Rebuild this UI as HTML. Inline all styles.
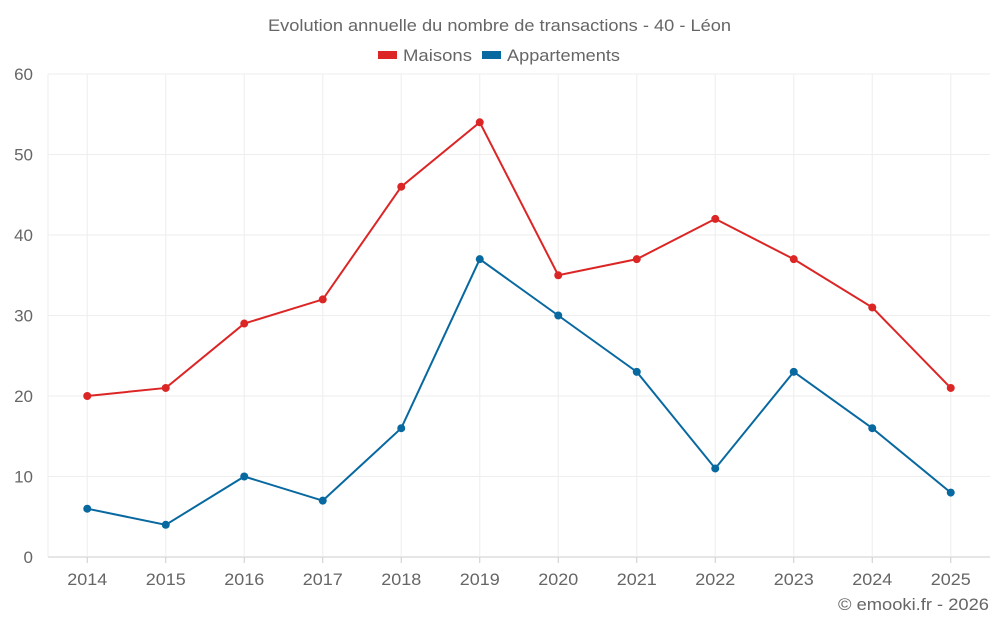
<!DOCTYPE html>
<html><head><meta charset="utf-8"><style>
body{margin:0;background:#fff;font-family:"Liberation Sans",sans-serif;}
svg text{font-family:"Liberation Sans",sans-serif;fill:#666;}
</style></head><body>
<svg id="chart" width="1000" height="625">
<text x="268" y="31" font-size="17" textLength="463" lengthAdjust="spacingAndGlyphs">Evolution annuelle du nombre de transactions - 40 - Léon</text>
<g>
<g><rect x="378" y="51" width="19" height="8" fill="#dc2626"/><text x="403" y="61" font-size="17" textLength="69" lengthAdjust="spacingAndGlyphs">Maisons</text></g>
<g><rect x="482" y="51" width="19" height="8" fill="#0868a0"/><text x="507" y="61" font-size="17" textLength="113" lengthAdjust="spacingAndGlyphs">Appartements</text></g>
</g>
<g id="grid"></g><g id="axes"></g><g id="series"></g>
<text x="838" y="610" font-size="17" textLength="151" lengthAdjust="spacingAndGlyphs">© emooki.fr - 2026</text>
</svg>
<script>
const categories=["2014","2015","2016","2017","2018","2019","2020","2021","2022","2023","2024","2025"];
const maisons=[20,21,29,32,46,54,35,37,42,37,31,21];
const appartements=[6,4,10,7,16,37,30,23,11,23,16,8];
const yTicks=[0,10,20,30,40,50,60];
const NS="http://www.w3.org/2000/svg";
const L=48,R=990,T=74,B=557,yMax=60;
const bw=(R-L)/categories.length;
const x=i=>L+bw*(i+0.5);
const y=v=>B-(v/yMax)*(B-T);
function mk(t,a,p){const e=document.createElementNS(NS,t);for(const k in a)e.setAttribute(k,a[k]);p.appendChild(e);return e;}
const grid=document.getElementById('grid'),axes=document.getElementById('axes'),ser=document.getElementById('series');
yTicks.forEach(v=>{
 const l=mk('line',{x1:L,x2:R,y1:y(v),y2:y(v),stroke:v===0?'#ccc':'#eee'},grid);
 
 
 const t=mk('text',{x:33,y:y(v)+6,'text-anchor':'end','font-size':17},axes);t.textContent=v;
 
 
});
mk('line',{x1:L,x2:L,y1:T,y2:B,stroke:'#eee'},grid);
categories.forEach((c,i)=>{
 const l=mk('line',{x1:x(i),x2:x(i),y1:T,y2:B,stroke:'#eee'},grid);
 
 
 mk('line',{x1:x(i),x2:x(i),y1:B,y2:B+6,stroke:'#ccc'},axes);
 const t=mk('text',{x:x(i),y:585,'text-anchor':'middle','font-size':17,textLength:40,lengthAdjust:'spacingAndGlyphs'},axes);t.textContent=c;
 
 
});
function draw(data,color,name){
 const p=mk('polyline',{points:data.map((v,i)=>x(i)+','+y(v)).join(' '),fill:'none',stroke:color,'stroke-width':2},ser);
 
 
 data.forEach((v,i)=>{const c=mk('circle',{cx:x(i),cy:y(v),r:4,fill:color},ser);
 
 });
}
draw(maisons,'#dc2626','maisons');
draw(appartements,'#0868a0','appartements');
</script>
</body></html>
